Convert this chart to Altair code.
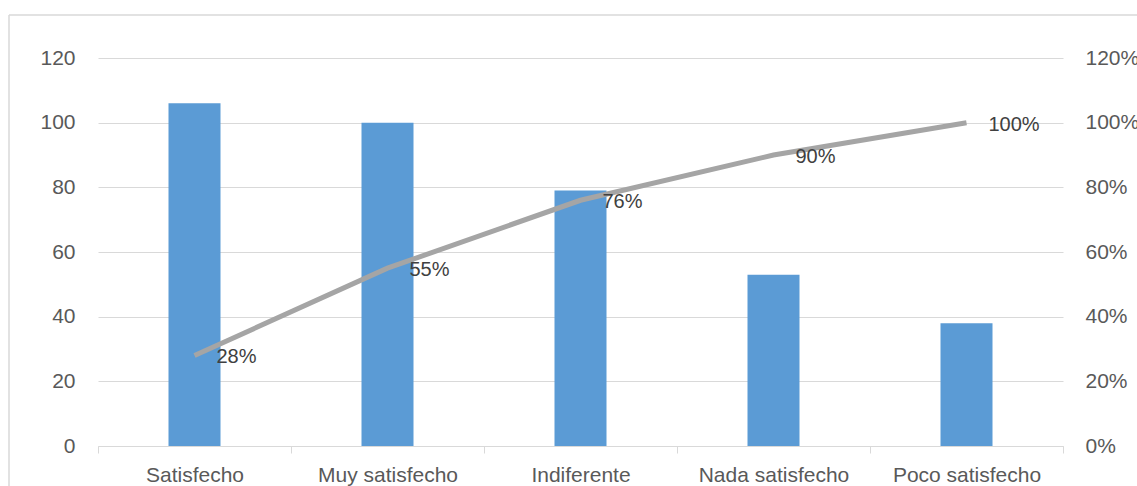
import altair as alt
import pandas as pd

# Pareto data: response counts and cumulative share (%)
categorias = ["Satisfecho", "Muy satisfecho", "Indiferente", "Nada satisfecho", "Poco satisfecho"]
frecuencia = [106, 100, 79, 53, 38]
acumulado_pct = [28, 55, 76, 90, 100]

df = pd.DataFrame({
    "categoria": categorias,
    "frecuencia": frecuencia,
    "acumulado": [v / 100 for v in acumulado_pct],
})

FONT = "Liberation Sans"
AXIS_GREY = "#595959"
GRID = "#D9D9D9"

x_enc = alt.X(
    "categoria:N",
    sort=categorias,
    title=None,
    scale=alt.Scale(paddingInner=0, paddingOuter=0),
    axis=alt.Axis(
        labelAngle=0, labelFontSize=21, labelColor=AXIS_GREY, labelFont=FONT,
        domainColor=GRID, tickColor=GRID, tickSize=7, tickBand="extent",
        labelPadding=11, grid=False,
    ),
)

bars = alt.Chart(df).mark_bar(size=52, color="#5B9BD5").encode(
    x=x_enc,
    y=alt.Y(
        "frecuencia:Q",
        title=None,
        scale=alt.Scale(domain=[0, 120]),
        axis=alt.Axis(
            values=[0, 20, 40, 60, 80, 100, 120], labelFontSize=21,
            labelColor=AXIS_GREY, labelFont=FONT, domain=False, ticks=False,
            labelPadding=23, gridColor=GRID, gridWidth=1,
        ),
    ),
)

y_pct = alt.Y(
    "acumulado:Q",
    title=None,
    scale=alt.Scale(domain=[0, 1.2]),
    axis=alt.Axis(
        orient="right", format=".0%", values=[0, 0.2, 0.4, 0.6, 0.8, 1.0, 1.2],
        labelFontSize=21, labelColor=AXIS_GREY, labelFont=FONT, domain=False,
        ticks=False, grid=False, labelPadding=22,
    ),
)

line = alt.Chart(df).mark_line(color="#A5A5A5", strokeWidth=5).encode(
    x=alt.X("categoria:N", sort=categorias, bandPosition=0.5),
    y=y_pct,
)

labels = alt.Chart(df).mark_text(
    align="left", baseline="middle", dx=22, dy=2, fontSize=20, font=FONT, color="#404040"
).encode(
    x=alt.X("categoria:N", sort=categorias, bandPosition=0.5),
    y=y_pct,
    text=alt.Text("acumulado:Q", format=".0%"),
)

# chart-area frame (left and top edges)
frame_data = alt.Data(values=[{"k": 1}])
frame_left = alt.Chart(frame_data).mark_rule(color=GRID, strokeWidth=1.5).encode(
    x=alt.value(-89), y=alt.value(-43), y2=alt.value(440)
)
frame_top = alt.Chart(frame_data).mark_rule(color=GRID, strokeWidth=1.5).encode(
    x=alt.value(-89), x2=alt.value(1100), y=alt.value(-43)
)

chart = alt.layer(
    bars,
    alt.layer(line, labels),
    frame_left,
    frame_top,
).resolve_scale(y="independent").properties(
    width=965,
    height=388,
    autosize=alt.AutoSizeParams(type="none"),
    padding={"left": 98, "top": 58, "right": 74, "bottom": 40},
    background="white",
).configure_view(stroke=None)

chart.save("out.html", embed_options={"renderer": "svg", "actions": False})
